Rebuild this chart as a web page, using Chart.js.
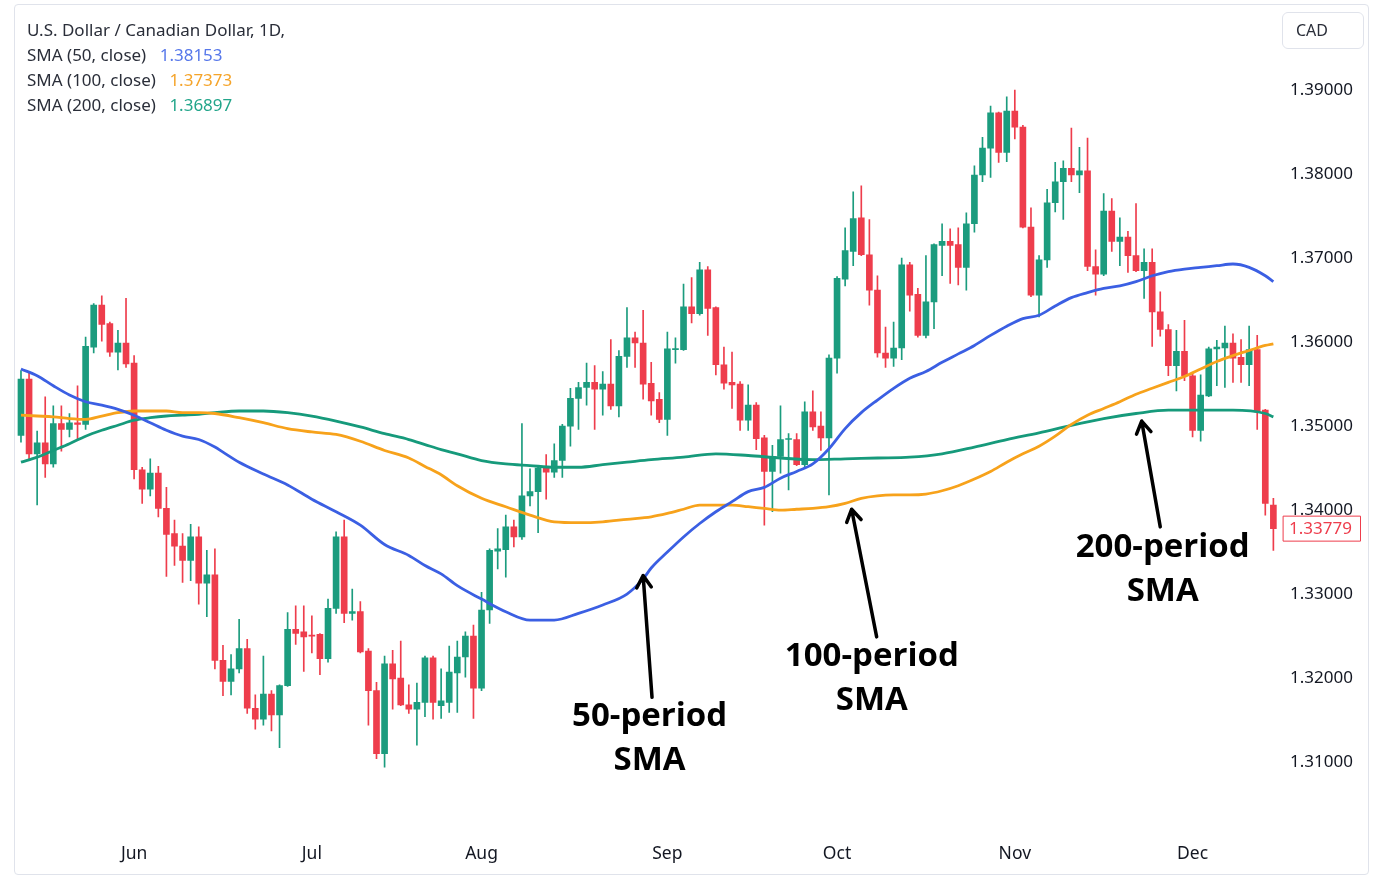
<!DOCTYPE html>
<html lang="en">
<head>
<meta charset="UTF-8">
<title>USD/CAD 1D with SMA 50 / 100 / 200</title>
<script src="https://cdn.jsdelivr.net/npm/chart.js"></script>
<style>
    body {
        margin: 0;
        background: #fff;
        font-family: "Noto Sans", Arial, sans-serif;
        color: #131722;
    }
    .frame {
        position: absolute;
        left: 14px;
        top: 4px;
        width: 1353px;
        height: 869px;
        border: 1px solid #e0e3eb;
        border-radius: 4px;
    }
    .legend {
        position: absolute;
        left: 27px;
        top: 17px;
        font-size: 17px;
        line-height: 25px;
        color: #2a2e39;
    }
    .legend .v { margin-left: 9px; }
    .cad {
        position: absolute;
        left: 1282px;
        top: 12px;
        width: 82px;
        height: 37px;
        box-sizing: border-box;
        border: 1px solid #e0e3eb;
        border-radius: 6px;
        padding-left: 13px;
        font-size: 16px;
        line-height: 35px;
        color: #2a2e39;
    }
</style>
</head>
<body>

<div class="frame">
    <canvas id="chart" width="1353" height="869"></canvas>
</div>

<div class="legend">
    <div>U.S. Dollar / Canadian Dollar, 1D,</div>
    <div>SMA (50, close) <span class="v" style="color:#5677ea">1.38153</span></div>
    <div>SMA (100, close) <span class="v" style="color:#f5a42a">1.37373</span></div>
    <div>SMA (200, close) <span class="v" style="color:#22a58a">1.36897</span></div>
</div>
<div class="cad">CAD</div>

<script>
    // daily candles, 12 May -> 15 Dec (index 0..155)
    const opens = [
        1.3489,1.3556,1.3467,1.3480,1.3455,1.3503,1.3496,1.3504,1.3502,1.3594,
        1.3644,1.3622,1.3588,1.3599,1.3575,1.3448,1.3425,1.3444,1.3402,1.3372,
        1.3357,1.3340,1.3368,1.3313,1.3323,1.3221,1.3196,1.3211,1.3235,1.3164,
        1.3151,1.3181,1.3156,1.3191,1.3258,1.3255,1.3251,1.3252,1.3223,1.3283,
        1.3368,1.3277,1.3279,1.3232,1.3185,1.3110,1.3217,1.3200,1.3168,1.3163,
        1.3171,1.3224,1.3167,1.3171,1.3206,1.3225,1.3250,1.3188,1.3281,1.3351,
        1.3353,1.3380,1.3368,1.3417,1.3422,1.3450,1.3445,1.3459,1.3500,1.3533,
        1.3546,1.3552,1.3544,1.3550,1.3524,1.3583,1.3605,1.3599,1.3551,1.3532,
        1.3508,1.3591,1.3591,1.3642,1.3634,1.3686,1.3641,1.3573,1.3552,1.3550,
        1.3507,1.3525,1.3486,1.3446,1.3464,1.3484,1.3484,1.3454,1.3517,1.3500,
        1.3486,1.3581,1.3675,1.3708,1.3748,1.3704,1.3662,1.3587,1.3581,1.3593,
        1.3692,1.3657,1.3608,1.3648,1.3715,1.3720,1.3716,1.3689,1.3741,1.3799,
        1.3831,1.3873,1.3826,1.3875,1.3856,1.3737,1.3656,1.3698,1.3766,1.3791,
        1.3807,1.3799,1.3804,1.3690,1.3681,1.3756,1.3720,1.3725,1.3703,1.3685,
        1.3695,1.3636,1.3615,1.3572,1.3589,1.3560,1.3495,1.3536,1.3592,1.3593,
        1.3599,1.3582,1.3573,1.3591,1.3519,1.3406
    ];
    const highs = [
        1.3566,1.3564,1.3494,1.3535,1.3524,1.3524,1.3515,1.3548,1.3606,1.3646,
        1.3655,1.3624,1.3614,1.3652,1.3584,1.3451,1.3461,1.3452,1.3427,1.3388,
        1.3372,1.3383,1.3380,1.3352,1.3354,1.3239,1.3228,1.3270,1.3246,1.3180,
        1.3226,1.3185,1.3192,1.3278,1.3286,1.3286,1.3274,1.3253,1.3294,1.3374,
        1.3388,1.3306,1.3291,1.3235,1.3195,1.3226,1.3233,1.3244,1.3192,1.3194,
        1.3226,1.3226,1.3211,1.3238,1.3244,1.3255,1.3263,1.3302,1.3354,1.3378,
        1.3394,1.3388,1.3503,1.3449,1.3453,1.3466,1.3479,1.3502,1.3545,1.3552,
        1.3575,1.3572,1.3565,1.3603,1.3590,1.3641,1.3612,1.3638,1.3576,1.3540,
        1.3612,1.3605,1.3669,1.3677,1.3695,1.3690,1.3642,1.3594,1.3588,1.3553,
        1.3549,1.3528,1.3489,1.3477,1.3524,1.3491,1.3491,1.3529,1.3542,1.3517,
        1.3585,1.3678,1.3736,1.3779,1.3786,1.3746,1.3679,1.3618,1.3624,1.3700,
        1.3695,1.3664,1.3703,1.3717,1.3741,1.3735,1.3736,1.3754,1.3810,1.3844,
        1.3881,1.3874,1.3892,1.3900,1.3858,1.3760,1.3703,1.3782,1.3814,1.3816,
        1.3855,1.3832,1.3843,1.3710,1.3777,1.3771,1.3748,1.3732,1.3765,1.3711,
        1.3711,1.3660,1.3621,1.3614,1.3626,1.3564,1.3561,1.3594,1.3602,1.3619,
        1.3610,1.3603,1.3619,1.3608,1.3520,1.3414
    ];
    const lows = [
        1.3481,1.3461,1.3406,1.3439,1.3451,1.3470,1.3487,1.3485,1.3496,1.3587,
        1.3601,1.3583,1.3567,1.3570,1.3437,1.3408,1.3417,1.3392,1.3321,1.3334,
        1.3314,1.3316,1.3288,1.3273,1.3211,1.3179,1.3180,1.3206,1.3158,1.3139,
        1.3144,1.3137,1.3117,1.3190,1.3240,1.3208,1.3230,1.3204,1.3219,1.3277,
        1.3266,1.3269,1.3230,1.3144,1.3104,1.3094,1.3163,1.3167,1.3158,1.3120,
        1.3154,1.3151,1.3152,1.3159,1.3159,1.3201,1.3152,1.3185,1.3265,1.3330,
        1.3320,1.3356,1.3365,1.3405,1.3373,1.3413,1.3439,1.3439,1.3476,1.3496,
        1.3525,1.3496,1.3513,1.3520,1.3511,1.3570,1.3570,1.3532,1.3513,1.3504,
        1.3489,1.3575,1.3590,1.3623,1.3632,1.3608,1.3561,1.3544,1.3521,1.3495,
        1.3495,1.3472,1.3382,1.3398,1.3444,1.3424,1.3453,1.3450,1.3495,1.3471,
        1.3418,1.3563,1.3667,1.3691,1.3703,1.3644,1.3582,1.3570,1.3571,1.3579,
        1.3637,1.3606,1.3605,1.3616,1.3679,1.3670,1.3668,1.3662,1.3731,1.3791,
        1.3796,1.3814,1.3815,1.3842,1.3736,1.3654,1.3630,1.3689,1.3755,1.3746,
        1.3791,1.3778,1.3685,1.3656,1.3679,1.3708,1.3691,1.3683,1.3684,1.3652,
        1.3595,1.3607,1.3560,1.3542,1.3554,1.3487,1.3482,1.3535,1.3548,1.3546,
        1.3552,1.3552,1.3548,1.3496,1.3394,1.3352
    ];
    const closes = [
        1.3556,1.3467,1.3480,1.3455,1.3503,1.3496,1.3504,1.3502,1.3595,1.3644,
        1.3621,1.3588,1.3599,1.3574,1.3448,1.3425,1.3444,1.3402,1.3371,1.3357,
        1.3340,1.3368,1.3313,1.3323,1.3221,1.3196,1.3211,1.3235,1.3164,1.3151,
        1.3181,1.3156,1.3191,1.3258,1.3253,1.3249,1.3250,1.3223,1.3283,1.3368,
        1.3277,1.3279,1.3231,1.3185,1.3110,1.3217,1.3199,1.3168,1.3163,1.3171,
        1.3224,1.3171,1.3173,1.3207,1.3225,1.3250,1.3188,1.3281,1.3352,1.3354,
        1.3380,1.3368,1.3417,1.3422,1.3450,1.3445,1.3459,1.3500,1.3533,1.3546,
        1.3552,1.3544,1.3550,1.3524,1.3583,1.3605,1.3599,1.3550,1.3530,1.3508,
        1.3592,1.3592,1.3642,1.3634,1.3686,1.3640,1.3573,1.3551,1.3549,1.3507,
        1.3525,1.3485,1.3446,1.3464,1.3484,1.3485,1.3454,1.3517,1.3499,1.3486,
        1.3581,1.3676,1.3709,1.3747,1.3704,1.3662,1.3587,1.3581,1.3593,1.3692,
        1.3656,1.3608,1.3648,1.3716,1.3720,1.3715,1.3689,1.3741,1.3799,1.3831,
        1.3873,1.3826,1.3875,1.3856,1.3737,1.3656,1.3698,1.3766,1.3791,1.3807,
        1.3799,1.3804,1.3690,1.3681,1.3756,1.3720,1.3725,1.3703,1.3685,1.3695,
        1.3636,1.3615,1.3572,1.3589,1.3560,1.3495,1.3537,1.3592,1.3594,1.3599,
        1.3581,1.3573,1.3591,1.3517,1.3408,1.33779
    ];

    // moving averages at these candle indexes
    const sma50Idx = [0,2,4,6,8,10,12,14,16,18,20,22,24,25,27,30,33,36,39,42,45,48,50,52,54,57,60,63,66,69,72,75,77,78,80,82,84,86,88,90,92,94,96,98,100,102,104,106,108,110,112,114,116,118,120,122,124,126,128,130,132,134,136,138,140,142,144,146,148,150,152,154,155];
    const sma50 = [1.3568,1.3560,1.3548,1.3537,1.3529,1.3525,1.3520,1.3513,1.3504,1.3495,1.3488,1.3484,1.3475,1.3469,1.3457,1.3443,1.3430,1.3413,1.3398,1.3382,1.3359,1.3346,1.3334,1.3324,1.3310,1.3294,1.3279,1.3269,1.3269,1.3277,1.3287,1.3300,1.3318,1.3331,1.3350,1.3368,1.3384,1.3398,1.3410,1.3422,1.3427,1.3438,1.3446,1.3455,1.3473,1.3497,1.3516,1.3531,1.3545,1.3557,1.3565,1.3576,1.3586,1.3596,1.3608,1.3619,1.3628,1.3632,1.3643,1.3653,1.3659,1.3664,1.3667,1.3672,1.3679,1.3684,1.3687,1.3689,1.3691,1.3693,1.3689,1.3679,1.3672];

    const sma100Idx = [0,2,4,6,8,10,12,14,16,18,20,22,24,27,30,33,36,39,42,45,48,50,52,54,57,60,63,66,69,72,75,78,80,82,84,86,88,90,92,94,96,98,100,102,104,106,108,110,112,114,116,118,120,122,124,126,128,130,132,134,136,138,140,142,144,146,148,150,152,154,155];
    const sma100 = [1.3513,1.3512,1.3511,1.3509,1.3508,1.3512,1.3516,1.3518,1.3518,1.3518,1.3516,1.3516,1.3515,1.3510,1.3504,1.3497,1.3493,1.3490,1.3482,1.3471,1.3462,1.3452,1.3442,1.3429,1.3414,1.3404,1.3394,1.3386,1.3385,1.3386,1.3389,1.3392,1.3396,1.3401,1.3406,1.3406,1.3406,1.3404,1.3402,1.3400,1.3401,1.3402,1.3404,1.3408,1.3414,1.3417,1.3418,1.3418,1.3419,1.3423,1.3429,1.3437,1.3446,1.3457,1.3467,1.3476,1.3488,1.3502,1.3513,1.3521,1.3529,1.3538,1.3545,1.3552,1.3559,1.3568,1.3577,1.3584,1.3590,1.3596,1.3598];

    const sma200Idx = [0,2,4,6,8,10,12,14,16,18,20,22,24,27,30,33,36,39,42,45,48,50,52,54,57,60,63,66,69,72,75,78,82,86,90,94,98,102,106,110,114,118,122,126,130,134,138,142,146,150,154,155];
    const sma200 = [1.3457,1.3463,1.3471,1.3479,1.3488,1.3495,1.3501,1.3507,1.3510,1.3512,1.3513,1.3514,1.3516,1.3518,1.3518,1.3516,1.3512,1.3506,1.3499,1.3491,1.3484,1.3478,1.3472,1.3467,1.3459,1.3455,1.3453,1.3451,1.3451,1.3454,1.3457,1.3460,1.3463,1.3467,1.3465,1.3462,1.3460,1.3461,1.3462,1.3463,1.3467,1.3475,1.3484,1.3492,1.3501,1.3509,1.3515,1.3519,1.3519,1.3519,1.3515,1.3511];

    const monthIdx = [14, 36, 57, 80, 101, 123, 145];
    const monthNames = ['Jun', 'Jul', 'Aug', 'Sep', 'Oct', 'Nov', 'Dec'];
    const priceTicks = [1.31, 1.32, 1.33, 1.34, 1.35, 1.36, 1.37, 1.38, 1.39];

    const upColor = '#1b9c7e';
    const downColor = '#ee3d4c';
    const candleColors = closes.map((c, i) => c >= opens[i] ? upColor : downColor);

    const fontFamily = '"Noto Sans", Arial, sans-serif';

    // arrows + captions, anchored on the chart's own scales
    const notes = [
        { lines: ['50-period', 'SMA'],  tip: [77.0, 1.3322],  tail: [78.1, 1.3177],  text: [77.8, 1.3154] },
        { lines: ['100-period', 'SMA'], tip: [102.8, 1.3401], tail: [105.9, 1.3249], text: [105.3, 1.3225] },
        { lines: ['200-period', 'SMA'], tip: [138.7, 1.3506], tail: [141.0, 1.3380], text: [141.3, 1.3355] }
    ];

    const notesPlugin = {
        id: 'notes',
        afterDraw(chart) {
            const ctx = chart.ctx;
            const x = chart.scales.x, y = chart.scales.y;
            ctx.save();
            notes.forEach(n => {
                const tx = x.getPixelForValue(n.tip[0]), ty = y.getPixelForValue(n.tip[1]);
                const sx = x.getPixelForValue(n.tail[0]), sy = y.getPixelForValue(n.tail[1]);
                ctx.strokeStyle = '#000';
                ctx.lineWidth = 3.5;
                ctx.lineCap = 'round';
                ctx.lineJoin = 'round';
                ctx.beginPath();
                ctx.moveTo(sx, sy);
                ctx.lineTo(tx, ty);
                const ang = Math.atan2(ty - sy, tx - sx);
                const head = 14;
                ctx.moveTo(tx - head * Math.cos(ang - 0.55), ty - head * Math.sin(ang - 0.55));
                ctx.lineTo(tx, ty);
                ctx.lineTo(tx - head * Math.cos(ang + 0.55), ty - head * Math.sin(ang + 0.55));
                ctx.stroke();

                const cx = x.getPixelForValue(n.text[0]), cy = y.getPixelForValue(n.text[1]);
                ctx.fillStyle = '#000';
                ctx.font = 'bold 33px "Open Sans", sans-serif';
                ctx.textAlign = 'center';
                ctx.textBaseline = 'middle';
                n.lines.forEach((t, k) => ctx.fillText(t, cx, cy + k * 44));
            });

            // last price tag on the price axis
            const last = closes[closes.length - 1];
            const py = y.getPixelForValue(last);
            const left = chart.chartArea.right + 3;
            ctx.fillStyle = '#fff';
            ctx.fillRect(left, py - 12.5, 78, 25);
            ctx.strokeStyle = downColor;
            ctx.lineWidth = 1;
            ctx.strokeRect(left + 0.5, py - 12.5, 77, 25);
            ctx.fillStyle = downColor;
            ctx.font = '17px ' + fontFamily;
            ctx.textAlign = 'left';
            ctx.textBaseline = 'middle';
            ctx.fillText(last.toFixed(5), chart.chartArea.right + 9, py + 1);
            ctx.restore();
        }
    };

    const lineSet = (label, idx, vals, color) => ({
        type: 'line',
        label: label,
        data: idx.map((v, i) => ({ x: v, y: vals[i] })),
        borderColor: color,
        borderWidth: 2.8,
        pointRadius: 0,
        cubicInterpolationMode: 'monotone',
        order: 0
    });

    new Chart(document.getElementById('chart'), {
        type: 'bar',
        data: {
            datasets: [
                lineSet('SMA 50', sma50Idx, sma50, '#3b5fe3'),
                lineSet('SMA 100', sma100Idx, sma100, '#f7a21b'),
                lineSet('SMA 200', sma200Idx, sma200, '#169a7b'),
                {
                    label: 'wicks',
                    data: closes.map((c, i) => ({ x: i, y: [lows[i], highs[i]] })),
                    backgroundColor: candleColors,
                    barThickness: 1,
                    grouped: false,
                    order: 2
                },
                {
                    label: 'bodies',
                    data: closes.map((c, i) => ({ x: i, y: [opens[i], c] })),
                    backgroundColor: candleColors,
                    barThickness: 6,
                    minBarLength: 1,
                    grouped: false,
                    order: 1
                }
            ]
        },
        options: {
            responsive: false,
            animation: false,
            events: [],
            devicePixelRatio: 1,
            layout: { padding: 0 },
            plugins: {
                legend: { display: false },
                tooltip: { enabled: false }
            },
            scales: {
                x: {
                    type: 'linear',
                    min: -0.74,
                    max: 155.82,
                    offset: false,
                    grid: { display: false, drawTicks: false },
                    border: { display: false },
                    afterBuildTicks: s => { s.ticks = monthIdx.map(v => ({ value: v })); },
                    afterFit: s => { s.height = 40; },
                    ticks: {
                        autoSkip: false,
                        maxRotation: 0,
                        padding: 10,
                        color: '#131722',
                        font: { size: 17.5, family: fontFamily },
                        callback: v => monthNames[monthIdx.indexOf(v)]
                    }
                },
                y: {
                    position: 'right',
                    min: 1.301428,
                    max: 1.397738,
                    grid: { display: false, drawTicks: false },
                    border: { display: false },
                    afterBuildTicks: s => { s.ticks = priceTicks.map(v => ({ value: v })); },
                    afterFit: s => { s.width = 88; },
                    ticks: {
                        padding: 10,
                        color: '#131722',
                        font: { size: 17, family: fontFamily },
                        callback: v => v.toFixed(5)
                    }
                }
            }
        },
        plugins: [notesPlugin]
    });
</script>

</body>
</html>
